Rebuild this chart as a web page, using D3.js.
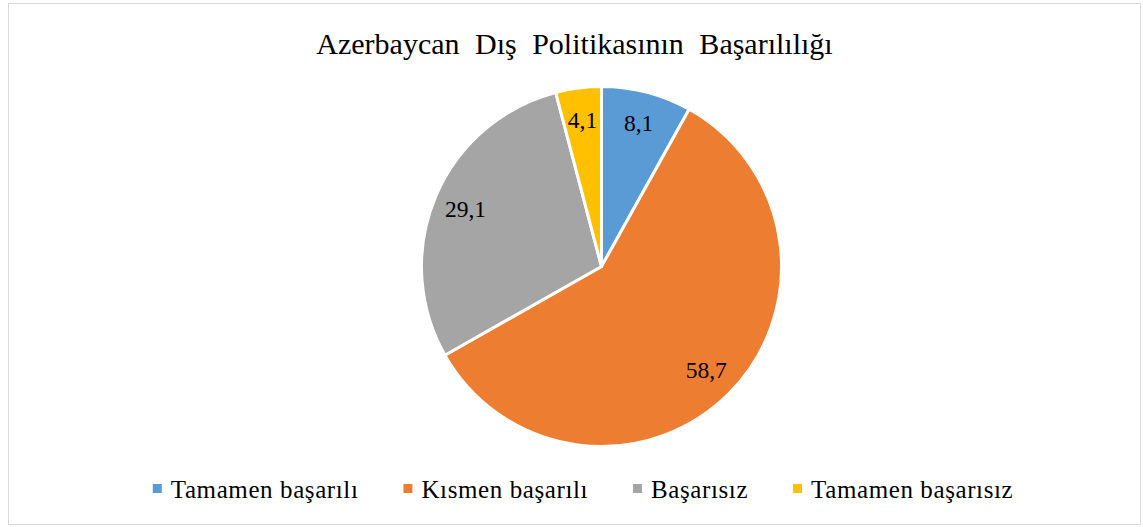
<!DOCTYPE html>
<html>
<head>
<meta charset="utf-8">
<script src="https://cdn.jsdelivr.net/npm/d3@7"></script>
<style>
  html, body { margin: 0; padding: 0; background: #fff; }
  svg { display: block; }
</style>
</head>
<body>
<svg id="chart" width="1143" height="527"></svg>
<script>
const title = "Azerbaycan Dış Politikasının Başarılılığı";
const categories = ["Tamamen başarılı", "Kısmen başarılı", "Başarısız", "Tamamen başarısız"];
const values = [8.1, 58.7, 29.1, 4.1];
const labels = ["8,1", "58,7", "29,1", "4,1"];
const colors = ["#5B9BD5", "#ED7D31", "#A5A5A5", "#FFC000"];

const W = 1143, H = 527;
const cx = 601.5, cy = 266.5, R = 180;
const FONT = "'Liberation Serif', 'Times New Roman', serif";

const svg = d3.select("#chart");

// outer border
svg.append("rect")
  .attr("x", 8.5).attr("y", 3.5)
  .attr("width", 1132).attr("height", 521)
  .attr("fill", "#fff")
  .attr("stroke", "#d9d9d9").attr("stroke-width", 1);

// title
svg.append("text")
  .attr("x", 574.5).attr("y", 53.5)
  .attr("text-anchor", "middle")
  .style("font-family", FONT)
  .style("font-size", "30px")
  .style("word-spacing", "8px")
  .attr("fill", "#000")
  .text(title);

const data = categories.map((c, i) => ({ cat: c, value: values[i], label: labels[i], color: colors[i] }));

const pie = d3.pie().value(d => d.value).sort(null);
const arcs = pie(data);
const arc = d3.arc().innerRadius(0).outerRadius(R);
const labelArc = d3.arc().innerRadius(R * 0.82).outerRadius(R * 0.82);

const g = svg.append("g").attr("transform", `translate(${cx},${cy})`);

g.selectAll("path.slice")
  .data(arcs)
  .join("path")
  .attr("class", "slice")
  .attr("d", arc)
  .attr("fill", d => d.data.color)
  .attr("stroke", "#fff")
  .attr("stroke-width", 3)
  .attr("stroke-linejoin", "round");

g.selectAll("text.lbl")
  .data(arcs)
  .join("text")
  .attr("class", "lbl")
  .attr("transform", d => `translate(${labelArc.centroid(d)})`)
  .attr("text-anchor", "middle")
  .attr("dy", "0.33em")
  .style("font-family", FONT)
  .style("font-size", "23.5px")
  .attr("fill", "#000")
  .text(d => d.data.label);

// legend
const legend = svg.append("g");
const items = legend.selectAll("g.item")
  .data(data)
  .join("g")
  .attr("class", "item");

items.append("rect")
  .attr("width", 9).attr("height", 9)
  .attr("y", 484)
  .attr("fill", d => d.color);

items.append("text")
  .attr("x", 18)
  .attr("y", 497.5)
  .style("font-family", FONT)
  .style("font-size", "25px")
  .style("letter-spacing", "0.6px")
  .attr("fill", "#000")
  .text(d => d.cat);

const gap = 45;
const widths = [];
items.each(function () {
  widths.push(18 + d3.select(this).select("text").node().getComputedTextLength());
});
const total = d3.sum(widths) + gap * (widths.length - 1);
let x0 = 583 - total / 2;
items.each(function (d, i) {
  d3.select(this).attr("transform", `translate(${x0},0)`);
  x0 += widths[i] + gap;
});
</script>
</body>
</html>
